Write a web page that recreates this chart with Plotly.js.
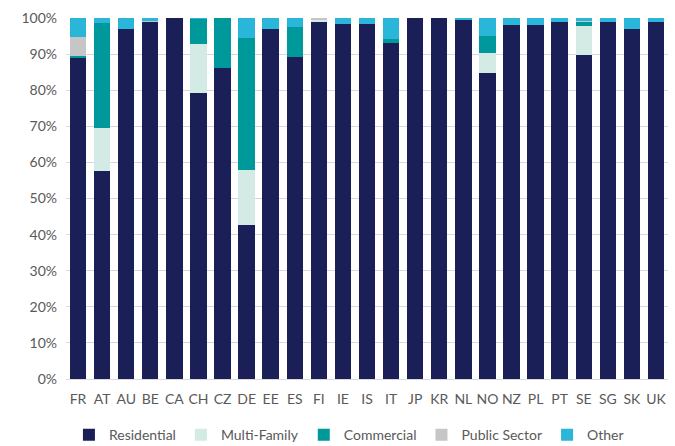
<!DOCTYPE html>
<html>
<head>
<meta charset="utf-8">
<script src="https://cdn.plot.ly/plotly-3.0.1.min.js"></script>
<style>html,body{margin:0;padding:0;background:#fff;}#chart{width:675px;height:446px;}</style>
</head>
<body>
<div id="chart"></div>
<script>
const countries = ["FR","AT","AU","BE","CA","CH","CZ","DE","EE","ES","FI","IE","IS","IT","JP","KR","NL","NO","NZ","PL","PT","SE","SG","SK","UK"];
const residential = [89.0, 57.5, 97.0, 99.0, 100, 79.1, 86.2, 42.7, 97.0, 89.3, 98.8, 98.4, 98.4, 93.2, 100, 100, 99.5, 84.9, 98.1, 98.1, 98.8, 89.8, 98.8, 97.0, 98.8];
const multiFamily = [0, 12.0, 0, 0, 0, 13.7, 0, 15.2, 0, 0, 0.6, 0, 0, 0, 0, 0, 0, 5.3, 0, 0, 0, 7.9, 0, 0, 0];
const commercial  = [0.5, 29.0, 0, 0, 0, 6.9, 13.8, 36.6, 0, 8.3, 0, 0, 0, 1.1, 0, 0, 0, 4.9, 0, 0, 0, 1.1, 0, 0, 0];
const publicSector= [5.3, 0, 0, 0.3, 0, 0, 0, 0, 0, 0, 0.6, 0, 0, 0, 0, 0, 0, 0, 0, 0, 0, 0.4, 0, 0, 0];
const other       = [5.2, 1.5, 3.0, 0.7, 0, 0.3, 0, 5.5, 3.0, 2.4, 0, 1.6, 1.6, 5.7, 0, 0, 0.5, 4.9, 1.9, 1.9, 1.2, 0.8, 1.2, 3.0, 1.2];
const seriesNames = ["Residential","Multi-Family","Commercial","Public Sector","Other"];
const seriesData = [residential, multiFamily, commercial, publicSector, other];
const colors = ["#1a2057","#d3eae5","#00999b","#c6c6c6","#29b6d9"];
const yTickVals = [0,10,20,30,40,50,60,70,80,90,100];
const yTickText = ["0%","10%","20%","30%","40%","50%","60%","70%","80%","90%","100%"];

const traces = seriesData.map((vals, i) => ({
  type: "bar",
  name: seriesNames[i],
  x: countries,
  y: vals,
  marker: {color: colors[i], line: {width: 0}},
  width: 0.68,
  hoverinfo: "x+y+name"
}));

const layout = {
  width: 675, height: 446,
  barmode: "stack",
  margin: {l: 66, r: 7, t: 18, b: 67, autoexpand: false},
  paper_bgcolor: "#fff", plot_bgcolor: "#fff",
  font: {family: "Lato, Open Sans, sans-serif", size: 14, color: "#595959"},
  xaxis: {
    tickfont: {size: 14, color: "#595959"},
    showgrid: false, zeroline: false,
    showline: true, linecolor: "#d9d9d9", linewidth: 1,
    ticks: "", ticklabelstandoff: 7
  },
  yaxis: {
    range: [0, 100], tickvals: yTickVals, ticktext: yTickText,
    tickfont: {size: 14, color: "#595959"},
    showgrid: true, gridcolor: "#d9d9d9", gridwidth: 1,
    zeroline: false, showline: false, ticks: "", ticklabelstandoff: 8
  },
  legend: {
    orientation: "h", x: 0.47, xanchor: "center", y: -0.2, yanchor: "bottom",
    font: {size: 14, color: "#595959"}, traceorder: "normal"
  },
  showlegend: true
};

Plotly.newPlot("chart", traces, layout, {displayModeBar: false, staticPlot: true});
</script>
</body>
</html>
